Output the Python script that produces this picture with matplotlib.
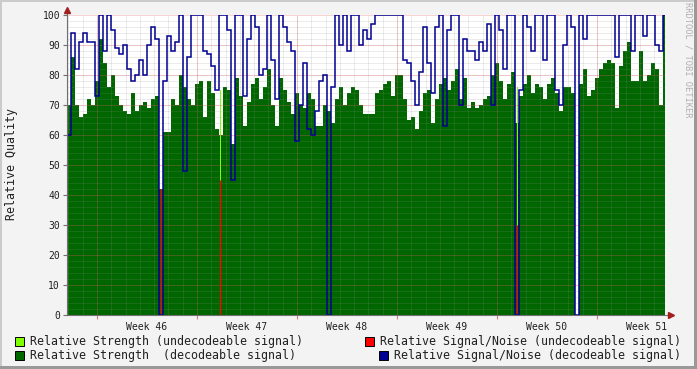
import matplotlib
matplotlib.use('Agg')
import matplotlib.pyplot as plt
import numpy as np
from matplotlib.patches import Rectangle

# time axis in days from the left edge of the graph
weeks = [46, 47, 48, 49, 50, 51]
week46_start = 2.1
span_days = 41.86
step_days = 0.28

# relative strength of decodeable signal (one value per step)
strength = [70, 86, 70, 66, 67, 72, 70, 78, 92, 84,
            76, 80, 73, 70, 68, 67, 74, 68, 70, 71,
            69, 72, 73, 42, 61, 61, 72, 70, 80, 76,
            72, 70, 77, 78, 66, 78, 74, 62, 60, 76,
            75, 57, 79, 73, 63, 71, 77, 79, 72, 76,
            82, 70, 63, 79, 75, 71, 67, 74, 70, 69,
            74, 72, 63, 63, 70, 68, 64, 72, 76, 70,
            74, 76, 75, 70, 67, 67, 67, 74, 75, 77,
            78, 73, 80, 80, 72, 65, 66, 62, 68, 74,
            75, 64, 72, 77, 79, 75, 78, 82, 72, 79,
            69, 71, 69, 70, 72, 73, 80, 84, 78, 72,
            77, 81, 64, 73, 77, 80, 74, 77, 76, 72,
            77, 79, 74, 68, 76, 76, 74, 0, 77, 82,
            73, 75, 79, 82, 84, 85, 84, 69, 83, 88,
            91, 78, 78, 88, 78, 80, 84, 82, 70, 100]

# relative signal/noise of decodeable signal
snr = [60, 94, 82, 91, 94, 91, 91, 73, 100, 88,
       100, 95, 89, 87, 90, 82, 78, 80, 85, 80,
       90, 96, 92, 0, 78, 93, 88, 91, 100, 48,
       86, 100, 100, 100, 88, 87, 83, 75, 100, 100,
       95, 45, 100, 100, 73, 92, 100, 96, 80, 82,
       100, 85, 72, 100, 96, 91, 88, 58, 70, 84,
       62, 60, 68, 78, 80, 0, 76, 100, 90, 100,
       88, 100, 100, 90, 95, 92, 97, 100, 100, 100,
       100, 100, 100, 100, 85, 84, 78, 70, 81, 96,
       84, 74, 96, 100, 63, 95, 100, 100, 70, 92,
       88, 88, 85, 91, 88, 97, 70, 100, 95, 82,
       100, 100, 0, 75, 100, 96, 88, 100, 100, 85,
       100, 100, 75, 70, 90, 100, 96, 0, 100, 92,
       100, 100, 100, 100, 100, 100, 100, 86, 100, 100,
       100, 88, 100, 100, 93, 100, 100, 90, 88, 100]

# undecodeable samples
undec_day = [6.55, 10.71, 31.5]
undec_strength = [0, 75, 76]
undec_snr = [42, 45, 30]

mono = 'DejaVu Sans Mono'
dark_green = '#006600'
light_green = '#80FF00'
red = '#FF0000'
navy = '#000090'

fig = plt.figure(figsize=(6.97, 3.69), dpi=100, facecolor='#F3F3F3')
ax = fig.add_axes([67 / 697, 54 / 369, 598 / 697, 300 / 369])
ax.set_facecolor('white')

edges = np.arange(len(strength) + 1) * step_days
ax.stairs(strength, edges, fill=True, color=dark_green, lw=0, zorder=2)
ax.bar(undec_day, undec_strength, width=0.07, color=light_green, lw=0, zorder=2.5)
ax.vlines(undec_day, 0, undec_snr, color=red, lw=1, zorder=4)
ax.stairs(snr, edges, baseline=None, color=navy, lw=1.1, zorder=5)

ax.set_xlim(0, span_days)
ax.set_ylim(0, 100)

# dotted grid
dot = (0, (1, 1))
week_starts = week46_start + 7 * np.arange(-1, 6)
for d in np.arange(week46_start - 2, span_days, 1.0):
    ax.axvline(d, color='#909090', alpha=0.35, lw=0.72, ls=dot, zorder=3)
for y in range(2, 100, 2):
    ax.axhline(y, color='#909090', alpha=0.35, lw=0.72, ls=dot, zorder=3)
for d in week_starts[1:]:
    ax.axvline(d, color='#E04040', alpha=0.45, lw=0.72, ls=dot, zorder=3.1)
for y in range(10, 101, 10):
    ax.axhline(y, color='#E04040', alpha=0.45, lw=0.72, ls=dot, zorder=3.1)

for s in ax.spines.values():
    s.set_visible(False)
ax.plot([0, 0], [0, 1.017], transform=ax.transAxes, color='#707070', lw=0.8,
        clip_on=False, zorder=6)
ax.plot([0, 1.01], [0, 0], transform=ax.transAxes, color='#707070', lw=0.8,
        clip_on=False, zorder=6)
ax.plot([0], [1.017], marker='^', ms=4, color='#A02020', transform=ax.transAxes,
        clip_on=False, zorder=7)
ax.plot([1.01], [0], marker='>', ms=4, color='#A02020', transform=ax.transAxes,
        clip_on=False, zorder=7)

ax.set_yticks(range(0, 101, 10))
ax.set_yticklabels([str(v) for v in range(0, 101, 10)], fontfamily=mono, fontsize=7)
ax.tick_params(axis='y', length=3, width=0.8, color='#707070', pad=2, labelcolor='#202020')
ax.set_xticks(week_starts[1:])
ax.set_xticklabels([])
ax.tick_params(axis='x', length=3, width=0.8, color='#D08080')
mid = week46_start + 3.5 + 7 * np.arange(len(weeks))
ax.set_xticks(mid, [f'Week {w}' for w in weeks], minor=True)
ax.tick_params(axis='x', which='minor', length=0, pad=5, labelsize=7, labelcolor='#202020')
for lb in ax.get_xticklabels(minor=True):
    lb.set_fontfamily(mono)

fig.text(12 / 697, 1 - 164 / 369, 'Relative Quality', rotation=90, ha='center', va='center',
         fontfamily=mono, fontsize=8.4, color='#202020')
fig.text(688 / 697, 1 - 60 / 369, 'RRDTOOL / TOBI OETIKER', rotation=270, ha='center',
         va='center', fontfamily=mono, fontsize=6.3, color='#B0B0B0')

# legend
legend = [
    (15, 341, light_green, 'Relative Strength (undecodeable signal)'),
    (15, 355, dark_green, 'Relative Strength  (decodeable signal)'),
    (365, 341, red, 'Relative Signal/Noise (undecodeable signal)'),
    (379, 355, navy, 'Relative Signal/Noise (decodeable signal)'),
]
for x, y, c, label in legend:
    fig.patches.append(Rectangle((x / 697, 1 - (y + 5) / 369), 9 / 697, 9 / 369,
                                 transform=fig.transFigure, facecolor=c,
                                 edgecolor='black', lw=0.7))
    fig.text((x + 15) / 697, 1 - y / 369, label, ha='left', va='center',
             fontfamily=mono, fontsize=8.4, color='#202020')

# 3d frame
fig.patches.append(Rectangle((0, 1 - 2 / 369), 1, 2 / 369, transform=fig.transFigure,
                             facecolor='#CBCBCB', lw=0))
fig.patches.append(Rectangle((0, 0), 2 / 697, 1, transform=fig.transFigure,
                             facecolor='#CBCBCB', lw=0))
fig.patches.append(Rectangle((0, 0), 1, 3 / 369, transform=fig.transFigure,
                             facecolor='#999999', lw=0))
fig.patches.append(Rectangle((1 - 3 / 697, 0), 3 / 697, 1, transform=fig.transFigure,
                             facecolor='#999999', lw=0))

fig.savefig('out.png', dpi=100, facecolor=fig.get_facecolor())
